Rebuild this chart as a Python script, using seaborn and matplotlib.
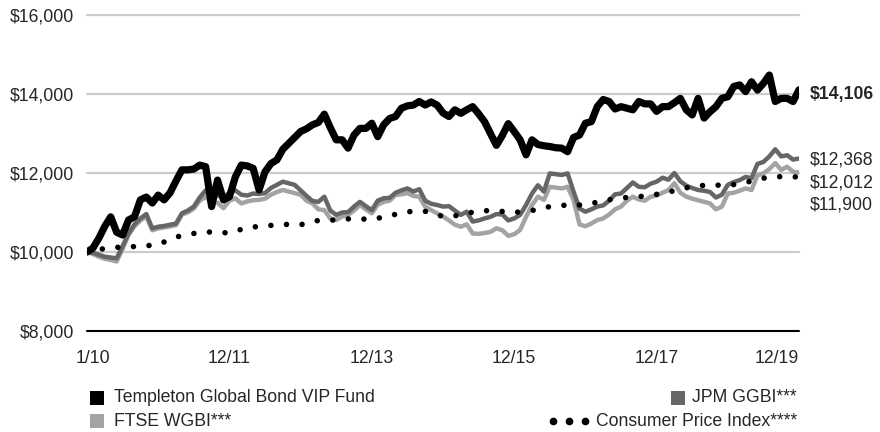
import numpy as np
import pandas as pd
import matplotlib
matplotlib.use("Agg")
import matplotlib.pyplot as plt
import seaborn as sns
from matplotlib import font_manager as fm
from matplotlib.patches import Rectangle
from matplotlib.lines import Line2D

# monthly growth of $10,000, 12/09 .. 12/19
fund = [10000, 10100, 10350, 10650, 10890, 10500, 10430, 10810, 10890, 11320,
        11390, 11240, 11440, 11320, 11500, 11800, 12080, 12080, 12100, 12200,
        12160, 11150, 11820, 11320, 11400, 11900, 12200, 12180, 12120, 11570,
        12030, 12240, 12330, 12600, 12750, 12900, 13050, 13120, 13220, 13280,
        13490, 13150, 12840, 12840, 12630, 12960, 13130, 13130, 13260, 12920,
        13220, 13380, 13430, 13640, 13700, 13720, 13810, 13720, 13800, 13720,
        13520, 13430, 13600, 13510, 13600, 13680, 13500, 13300, 13000, 12700,
        12950, 13250, 13050, 12840, 12460, 12840, 12720, 12690, 12670, 12640,
        12630, 12540, 12900, 12960, 13260, 13300, 13680, 13860, 13810, 13620,
        13680, 13640, 13600, 13810, 13750, 13750, 13560, 13680, 13680, 13780,
        13890, 13600, 13470, 13890, 13390, 13550, 13680, 13890, 13930, 14190,
        14230, 14060, 14310, 14100, 14270, 14480, 13810, 13890, 13890, 13810,
        14106]

jpm = [10000, 9980, 9930, 9880, 9860, 9840, 10150, 10470, 10700, 10850,
       10960, 10600, 10640, 10660, 10690, 10720, 10980, 11050, 11150, 11380,
       11560, 11400, 11440, 11380, 11500, 11560, 11450, 11430, 11480, 11470,
       11490, 11620, 11700, 11780, 11740, 11700, 11560, 11420, 11290, 11270,
       11400, 11050, 10940, 11000, 11010, 11150, 11270, 11160, 11060, 11300,
       11360, 11370, 11500, 11560, 11610, 11530, 11590, 11300, 11220, 11190,
       11150, 11160, 11050, 10940, 11020, 10770, 10800, 10850, 10890, 10960,
       10950, 10800, 10850, 10940, 11190, 11480, 11690, 11530, 11990, 11970,
       11950, 11990, 11530, 11100, 11020, 11080, 11150, 11180, 11300, 11460,
       11480, 11620, 11760, 11650, 11640, 11730, 11780, 11880, 11830, 12000,
       11790, 11680, 11620, 11570, 11550, 11520, 11380, 11450, 11700, 11770,
       11820, 11900, 11870, 12230, 12280, 12420, 12600, 12420, 12450, 12340,
       12368]

ftse = [10000, 9950, 9880, 9830, 9800, 9760, 10080, 10430, 10650, 10800,
        10900, 10550, 10600, 10620, 10650, 10680, 10950, 11000, 11100, 11300,
        11400, 11230, 11250, 11110, 11300, 11360, 11230, 11280, 11310, 11320,
        11350, 11450, 11520, 11570, 11530, 11490, 11450, 11300, 11230, 11080,
        11060, 10850, 10810, 10900, 10940, 11050, 11190, 11080, 10980, 11200,
        11270, 11300, 11440, 11460, 11490, 11420, 11400, 11150, 11060, 10980,
        10900, 10800, 10690, 10640, 10700, 10470, 10460, 10480, 10510, 10600,
        10550, 10410, 10450, 10560, 10890, 11190, 11400, 11320, 11650, 11630,
        11610, 11650, 11320, 10700, 10650, 10720, 10810, 10850, 10950, 11080,
        11150, 11300, 11400, 11330, 11300, 11400, 11430, 11500, 11570, 11740,
        11500, 11400, 11350, 11310, 11270, 11230, 11080, 11150, 11480, 11500,
        11550, 11610, 11570, 11940, 11990, 12100, 12250, 12080, 12160, 12030,
        12012]

# CPI, quarterly
cpi = [10000, 10090, 10130, 10140, 10190, 10380, 10470, 10510, 10480, 10620,
       10660, 10700, 10690, 10800, 10810, 10850, 10820, 10920, 11020, 11030,
       10900, 10930, 11050, 11040, 11000, 11050, 11150, 11190, 11190, 11300,
       11370, 11400, 11460, 11550, 11660, 11700, 11680, 11760, 11870, 11910,
       11900]

months = np.arange(len(fund))
cpi_months = np.arange(len(cpi)) * 3

tick_months = [1, 24, 48, 72, 96, 120]
tick_labels = ["1/10", "12/11", "12/13", "12/15", "12/17", "12/19"]
y_ticks = [8000, 10000, 12000, 14000, 16000]

end_labels = ["$14,106", "$12,368", "$12,012", "$11,900"]
end_label_y = [13975, 12330, 11750, 11190]

names = ["Templeton Global Bond VIP Fund", "JPM GGBI***", "FTSE WGBI***",
         "Consumer Price Index****"]
c_fund, c_jpm, c_ftse = "#000000", "#666666", "#a3a3a3"

sns.set_style("white")


def pick_font(cands):
    for f in cands:
        try:
            fm.findfont(fm.FontProperties(family=f), fallback_to_default=False)
            return f
        except Exception:
            continue
    return "DejaVu Sans"


font = pick_font(["Liberation Sans Narrow", "DejaVu Sans Condensed", "Liberation Sans"])
plt.rcParams["font.family"] = [font, "DejaVu Sans"]
fs = 12.7

W, H = 880, 432
fig = plt.figure(figsize=(W / 100, H / 100), dpi=100)
ax = fig.add_axes([87 / W, 1 - 331 / H, (799 - 87) / W, (331 - 15) / H])

df = pd.DataFrame({"month": months, "fund": fund, "jpm": jpm, "ftse": ftse})
dcpi = pd.DataFrame({"month": cpi_months, "cpi": cpi})

for v in y_ticks[1:]:
    ax.axhline(v, color="#cccccc", lw=1.6, zorder=0, clip_on=False)
ax.axhline(8000, color="black", lw=1.5, zorder=1, clip_on=False)

sns.lineplot(data=df, x="month", y="ftse", color=c_ftse, lw=3.2, ax=ax, zorder=2)
sns.lineplot(data=df, x="month", y="jpm", color=c_jpm, lw=3.2, ax=ax, zorder=3)
sns.lineplot(data=dcpi, x="month", y="cpi", color="black", lw=4.0, ax=ax, zorder=4,
             linestyle=(0, (0.01, 2.8)), dash_capstyle="round")
sns.lineplot(data=df, x="month", y="fund", color=c_fund, lw=5.2, ax=ax, zorder=5,
             solid_joinstyle="round")

ax.set_xlim(0, 120)
ax.set_ylim(8000, 16000)
for s in ax.spines.values():
    s.set_visible(False)
ax.set_xlabel("")
ax.set_ylabel("")
ax.set_yticks(y_ticks)
ax.set_yticklabels([f"${v:,.0f}" for v in y_ticks], fontsize=fs)
ax.set_xticks(tick_months)
ax.set_xticklabels(tick_labels, fontsize=fs)
ax.tick_params(axis="y", length=0, pad=9)
ax.tick_params(axis="x", length=0, pad=14)
ax.get_xticklabels()[-1].set_ha("right")

for i, (lab, yv) in enumerate(zip(end_labels, end_label_y)):
    ax.annotate(lab, xy=(120, yv), xytext=(8, 0), textcoords="offset points",
                va="center", ha="left", fontsize=fs,
                fontweight="bold" if i == 0 else "normal", annotation_clip=False)

# legend, drawn by hand to keep the two-sided layout
row_y = [398, 421]
sq = 14


def fig_xy(px, py):
    return px / W, 1 - py / H


def square(px, py, color):
    x0, y0 = fig_xy(px, py + sq / 2)
    fig.add_artist(Rectangle((x0, y0), sq / W, sq / H, transform=fig.transFigure,
                             color=color, lw=0))


square(90, row_y[0], c_fund)
fig.text(*fig_xy(114, row_y[0]), names[0], fontsize=fs, va="center", ha="left")
square(90, row_y[1], c_ftse)
fig.text(*fig_xy(114, row_y[1]), names[2], fontsize=fs, va="center", ha="left")

t_jpm = fig.text(*fig_xy(797, row_y[0]), names[1], fontsize=fs, va="center", ha="right")
t_cpi = fig.text(*fig_xy(797, row_y[1]), names[3], fontsize=fs, va="center", ha="right")
fig.canvas.draw()
r = fig.canvas.get_renderer()
left_jpm = t_jpm.get_window_extent(r).x0
left_cpi = t_cpi.get_window_extent(r).x0
square(left_jpm - 7 - sq, row_y[0], c_jpm)
for k in range(3):
    px = left_cpi - 11 - k * 16
    fig.add_artist(Line2D([px / W], [1 - row_y[1] / H], transform=fig.transFigure,
                          marker="o", ms=4.5, color="black", lw=0))

fig.savefig("out.png", dpi=100)
